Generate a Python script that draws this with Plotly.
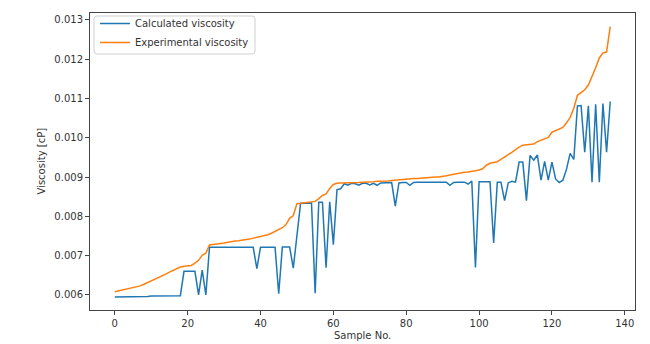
import plotly.graph_objects as go

sample_no = list(range(137))

calculated_viscosity = [
    0.00595, 0.00595, 0.00595, 0.00595, 0.00595, 0.00596, 0.00596, 0.00596, 0.00596, 0.00596,
    0.00597, 0.00597, 0.00597, 0.00597, 0.00597, 0.00598, 0.00598, 0.00598, 0.00598, 0.0066,
    0.0066, 0.0066, 0.0066, 0.0060, 0.00663, 0.0060, 0.00721, 0.00721, 0.00721, 0.00721,
    0.00721, 0.00721, 0.00721, 0.00721, 0.00721, 0.00721, 0.00721, 0.00721, 0.00721, 0.00667,
    0.00721, 0.00721, 0.00721, 0.00721, 0.00721, 0.00603, 0.00722, 0.00722, 0.00722, 0.00668,
    0.0075, 0.00833, 0.00833, 0.00834, 0.00834, 0.00604, 0.00836, 0.00836, 0.00669, 0.00837,
    0.00728, 0.00868, 0.0087, 0.00883, 0.00879, 0.00884, 0.00883, 0.00879, 0.00884, 0.00884,
    0.0088, 0.00884, 0.00879, 0.00885, 0.00885, 0.00885, 0.00886, 0.00826, 0.00885, 0.00886,
    0.00886, 0.00879, 0.00886, 0.00887, 0.00887, 0.00887, 0.00887, 0.00887, 0.00887, 0.00887,
    0.00887, 0.00887, 0.00879, 0.00886, 0.00887, 0.00887, 0.00887, 0.00882, 0.0089, 0.0067,
    0.00888, 0.00888, 0.00888, 0.00888, 0.00732, 0.00887, 0.00887, 0.0084, 0.00885, 0.00889,
    0.00887, 0.00938, 0.00938, 0.0084, 0.00955, 0.00943, 0.00956, 0.00892, 0.0094, 0.00892,
    0.00938, 0.00895, 0.00886, 0.00892, 0.0092, 0.0096, 0.00945, 0.01081, 0.01082, 0.00963,
    0.01081, 0.00887, 0.01085, 0.00887, 0.01087, 0.00963, 0.01092,
]

experimental_viscosity = [
    0.00608, 0.0061, 0.00612, 0.00614, 0.00617, 0.00619, 0.0062, 0.00623, 0.00627, 0.00631,
    0.00635, 0.0064, 0.00643, 0.00648, 0.00653, 0.00658, 0.00663, 0.00667, 0.00671, 0.00673,
    0.00674, 0.00675, 0.00681, 0.00688, 0.00701, 0.00706, 0.00727, 0.00729, 0.0073, 0.00731,
    0.00732, 0.00734, 0.00735, 0.00737, 0.00738, 0.0074, 0.00741, 0.00742, 0.00744, 0.00746,
    0.00748, 0.0075, 0.00753, 0.00757, 0.00762, 0.00766, 0.00771, 0.00779, 0.00795, 0.00802,
    0.00832, 0.00833, 0.00834, 0.00835, 0.00836, 0.00838, 0.00845, 0.00853, 0.00857, 0.00871,
    0.00881, 0.00884, 0.00885, 0.00885, 0.00885, 0.00886, 0.00886, 0.00886, 0.00887, 0.00887,
    0.00888, 0.00888, 0.00889, 0.00889, 0.0089, 0.0089, 0.00891, 0.00892, 0.00893, 0.00894,
    0.00895, 0.00895, 0.00896, 0.00896, 0.00897, 0.00897, 0.00898, 0.00899, 0.009, 0.009,
    0.00901, 0.00903, 0.00905, 0.00907, 0.00909, 0.00911, 0.00912, 0.00913, 0.00914, 0.00916,
    0.00918, 0.00921, 0.0093, 0.00935, 0.00937, 0.00939, 0.00945, 0.0095, 0.00957, 0.00963,
    0.0097, 0.00976, 0.00981, 0.00982, 0.00983, 0.00984, 0.0099, 0.00994, 0.00997, 0.01001,
    0.01014, 0.01018, 0.01022, 0.01026, 0.01038, 0.01052, 0.01075, 0.01108, 0.01115, 0.01122,
    0.01134, 0.01155, 0.01178, 0.01203, 0.01216, 0.01218, 0.01283,
]

x_ticks = [0, 20, 40, 60, 80, 100, 120, 140]
y_ticks = [0.006, 0.007, 0.008, 0.009, 0.010, 0.011, 0.012, 0.013]

FONT = "DejaVu Sans"
TXT = "#333333"

# plot area in pixels: left 90, right 635, top 13, bottom 310
W, H = 650, 344
ML, MR, MT, MB = 90, 15, 13, 34
PW, PH = W - ML - MR, H - MT - MB


def px_x(p):
    return (p - ML) / PW


def px_y(p):
    return 1 - (p - MT) / PH


fig = go.Figure()
fig.add_trace(go.Scatter(x=sample_no, y=calculated_viscosity, mode="lines",
                         name="Calculated viscosity",
                         line=dict(color="#1f77b4", width=1.5)))
fig.add_trace(go.Scatter(x=sample_no, y=experimental_viscosity, mode="lines",
                         name="Experimental viscosity",
                         line=dict(color="#ff7f0e", width=1.5)))

axis_common = dict(showline=True, mirror=True, linecolor="#444444", linewidth=1,
                   ticks="outside", ticklen=4, tickcolor="#444444", tickwidth=1,
                   showgrid=False, zeroline=False, automargin=False,
                   tickfont=dict(family=FONT, size=10, color=TXT))

fig.update_xaxes(range=[-6.8, 142.8], tickvals=x_ticks, **axis_common)
fig.update_yaxes(range=[0.005616, 0.013174], tickvals=y_ticks, tickformat=".3f",
                 **axis_common)

# legend frame (rounded box like matplotlib's)
x0, x1 = px_x(94), px_x(255)
y0, y1 = px_y(54), px_y(16)
rx, ry = 3 / PW, 3 / PH
path = (f"M {x0+rx},{y1} L {x1-rx},{y1} Q {x1},{y1} {x1},{y1-ry} "
        f"L {x1},{y0+ry} Q {x1},{y0} {x1-rx},{y0} L {x0+rx},{y0} "
        f"Q {x0},{y0} {x0},{y0+ry} L {x0},{y1-ry} Q {x0},{y1} {x0+rx},{y1} Z")

fig.update_layout(
    width=W, height=H,
    margin=dict(l=ML, r=MR, t=MT, b=MB, autoexpand=False),
    paper_bgcolor="white", plot_bgcolor="white",
    font=dict(family=FONT, size=10, color=TXT),
    showlegend=True,
    legend=dict(x=px_x(95), y=px_y(9), xanchor="left", yanchor="top",
                bgcolor="rgba(0,0,0,0)", borderwidth=0,
                font=dict(family=FONT, size=10, color=TXT)),
    shapes=[dict(type="path", path=path, xref="paper", yref="paper",
                 line=dict(color="#d0d0d0", width=1),
                 fillcolor="rgba(255,255,255,0.8)", layer="above")],
    annotations=[
        dict(text="Sample No.", xref="paper", yref="paper", x=0.5, y=px_y(335),
             xanchor="center", yanchor="middle", showarrow=False,
             font=dict(family=FONT, size=10, color=TXT)),
        dict(text="Viscosity [cP]", xref="paper", yref="paper", x=px_x(41), y=0.5,
             xanchor="center", yanchor="middle", textangle=-90, showarrow=False,
             font=dict(family=FONT, size=10, color=TXT)),
    ],
)

fig.write_html("out.html")
